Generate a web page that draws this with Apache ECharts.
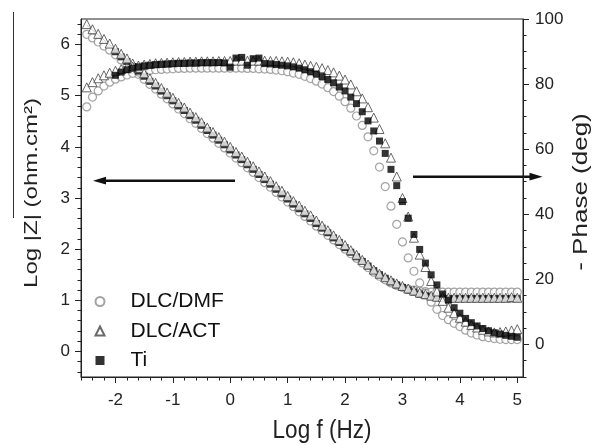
<!DOCTYPE html>
<html>
<head>
<meta charset="utf-8">
<script src="https://cdn.jsdelivr.net/npm/echarts@6/dist/echarts.min.js"></script>
<style>html,body{margin:0;padding:0;background:#fff;}#c{width:599px;height:445px;}</style>
</head>
<body>
<div id="c"></div>
<script>
// ---- data ----
const logF = [-2.5,-2.4,-2.3,-2.2,-2.1,-2.0,-1.9,-1.8,-1.7,-1.6,
  -1.5,-1.4,-1.3,-1.2,-1.1,-1.0,-0.9,-0.8,-0.7,-0.6,
  -0.5,-0.4,-0.3,-0.2,-0.1,0.0,0.1,0.2,0.3,0.4,
  0.5,0.6,0.7,0.8,0.9,1.0,1.1,1.2,1.3,1.4,
  1.5,1.6,1.7,1.8,1.9,2.0,2.1,2.2,2.3,2.4,
  2.5,2.6,2.7,2.8,2.9,3.0,3.1,3.2,3.3,3.4,
  3.5,3.6,3.7,3.8,3.9,4.0,4.1,4.2,4.3,4.4,
  4.5,4.6,4.7,4.8,4.9,5.0];

const zDMF = [6.20,6.13,6.05,5.97,5.89,5.80,5.70,5.61,5.51,5.42,
  5.32,5.22,5.13,5.03,4.94,4.84,4.74,4.65,4.55,4.46,
  4.36,4.26,4.17,4.07,3.98,3.88,3.78,3.69,3.59,3.50,
  3.40,3.30,3.21,3.11,3.02,2.92,2.83,2.73,2.64,2.55,
  2.45,2.36,2.27,2.18,2.09,2.00,1.91,1.82,1.73,1.64,
  1.55,1.47,1.40,1.34,1.29,1.25,1.22,1.20,1.18,1.17,
  1.16,1.16,1.16,1.16,1.16,1.16,1.16,1.16,1.16,1.16,
  1.16,1.16,1.16,1.16,1.16,1.16];

const zACT = [6.40,6.30,6.21,6.11,6.02,5.92,5.82,5.73,5.63,5.54,
  5.44,5.34,5.25,5.15,5.06,4.96,4.86,4.77,4.67,4.58,
  4.48,4.38,4.29,4.19,4.10,4.00,3.90,3.81,3.71,3.62,
  3.52,3.42,3.33,3.23,3.14,3.04,2.94,2.85,2.75,2.66,
  2.56,2.46,2.37,2.27,2.18,2.08,1.98,1.89,1.79,1.70,
  1.60,1.52,1.45,1.39,1.33,1.28,1.23,1.19,1.15,1.12,
  1.09,1.07,1.06,1.05,1.05,1.05,1.05,1.05,1.05,1.05,
  1.05,1.05,1.05,1.05,1.06,1.05];

const zTi = [null,null,null,null,null,5.86,5.76,5.67,5.57,5.48,
  5.38,5.28,5.19,5.09,5.00,4.90,4.80,4.71,4.61,4.52,
  4.42,4.32,4.23,4.13,4.04,3.94,3.84,3.75,3.65,3.56,
  3.46,3.36,3.27,3.17,3.08,2.98,2.88,2.79,2.69,2.60,
  2.50,2.41,2.32,2.22,2.13,2.03,1.94,1.85,1.76,1.67,
  1.58,1.50,1.43,1.36,1.30,1.25,1.20,1.16,1.12,1.09,
  1.07,1.05,1.04,1.03,1.03,1.03,1.03,1.03,1.03,1.03,
  1.03,1.03,1.03,1.03,1.03,1.03];

const phDMF = [73.0,76.0,77.9,79.4,80.6,81.5,82.2,82.8,83.3,83.7,
  84.0,84.2,84.4,84.5,84.6,84.7,84.8,84.8,84.9,84.9,
  84.9,84.9,84.9,84.9,84.9,84.9,84.9,84.9,84.8,84.8,
  84.7,84.6,84.5,84.3,84.1,83.8,83.4,83.0,82.4,81.7,
  80.9,80.0,78.9,77.7,76.3,74.6,72.6,70.2,67.3,63.8,
  59.5,54.5,48.5,42.5,36.9,31.5,26.6,22.5,18.9,15.8,
  13.0,10.8,8.9,7.6,6.5,5.5,4.4,3.5,2.9,2.4,
  2.1,1.8,1.6,1.5,1.5,1.5];

const phACT = [79.0,80.6,81.8,82.7,83.5,84.1,84.6,85.0,85.4,85.7,
  86.0,86.2,86.4,86.5,86.6,86.7,86.8,86.8,86.9,86.9,
  87.0,87.0,87.0,87.1,87.1,87.1,87.2,87.2,87.2,87.2,
  87.2,87.2,87.1,87.1,87.0,86.9,86.7,86.4,86.0,85.6,
  85.3,84.9,84.3,83.6,82.6,81.4,79.9,77.8,75.6,72.9,
  69.7,66.2,61.8,57.4,51.6,45.0,39.3,32.8,27.6,23.8,
  19.5,16.3,13.4,11.3,9.6,8.2,7.0,6.0,5.2,4.5,
  4.0,3.7,3.8,4.0,4.3,4.7];

const phTi = [null,null,null,null,null,82.7,83.7,84.4,84.9,85.3,
  85.6,85.8,86.0,86.1,86.2,86.3,86.4,86.4,86.5,86.5,
  86.6,86.6,86.6,86.6,86.5,85.2,88.0,88.2,85.8,87.8,
  88.0,86.3,86.2,86.0,85.8,85.6,85.3,84.9,84.4,83.8,
  83.1,82.3,81.4,80.4,79.1,77.9,76.0,74.0,71.5,68.7,
  65.6,62.5,58.7,53.8,48.8,43.9,38.8,33.8,29.2,25.0,
  21.4,18.3,15.5,13.6,11.3,9.6,8.0,6.7,5.7,4.9,
  4.2,3.6,3.2,2.8,2.5,2.2];

const fitLogF = [-2.5,-1.5,-0.5,0.5,1.5,2.0,2.4,2.7,3.0,3.3,3.6,4.0,4.5,5.0];
const fitZ = [6.38,5.42,4.46,3.50,2.54,2.06,1.69,1.43,1.25,1.12,1.04,1.00,0.99,0.99];

const xTicks = [-2,-1,0,1,2,3,4,5];
const zTicks = [0,1,2,3,4,5,6];
const phTicks = [0,20,40,60,80,100];

const legendNames = ['DLC/DMF','DLC/ACT','Ti'];

// ---- helpers ----
function pairs(xs, ys){ const out=[]; xs.forEach((x,i)=>{ if(ys[i]!=null) out.push([x,ys[i]]); }); return out; }
function minorTicks(lo, hi, step, majors){
  const out=[]; const n=Math.round((hi-lo)/step);
  for(let k=0;k<=n;k++){ const v=Math.round((lo+k*step)*1000)/1000;
    if(!majors.some(m=>Math.abs(m-v)<1e-9)) out.push(v); }
  return out;
}
const FONT = 'Liberation Sans, Arial, sans-serif';
const AX = '#222';

const xMinor = minorTicks(-2.6, 5.0, 0.2, xTicks);
const zMinor = minorTicks(-0.4, 6.4, 0.2, zTicks);
const phMinor = minorTicks(-10, 95, 5, phTicks);

function majorAxis(base, ticks, margin){
  return Object.assign({
    type:'value', splitLine:{show:false},
    axisLine:{show:true, onZero:false, lineStyle:{color:AX, width:1}},
    axisTick:{show:true, inside:false, length:6, customValues:ticks, lineStyle:{color:AX, width:1}},
    axisLabel:{customValues:ticks, fontSize:17, fontFamily:FONT, color:AX, margin:margin}
  }, base);
}
function minorAxis(base, ticks){
  return Object.assign({
    type:'value', splitLine:{show:false},
    axisLine:{show:false, onZero:false},
    axisTick:{show:true, inside:false, length:3.5, customValues:ticks, lineStyle:{color:AX, width:1}},
    axisLabel:{show:false}
  }, base);
}

const chart = echarts.init(document.getElementById('c'), null, {renderer:'canvas'});
chart.setOption({
  animation:false,
  backgroundColor:'#fff',
  grid:{left:81, right:76, top:19, bottom:68, show:true, borderColor:AX, borderWidth:1, backgroundColor:'transparent'},
  xAxis:[
    majorAxis({min:-2.6, max:5.1, position:'bottom'}, xTicks, 15),
    minorAxis({min:-2.6, max:5.1, position:'bottom'}, xMinor)
  ],
  yAxis:[
    majorAxis({min:-0.5, max:6.5, position:'left'}, zTicks, 11),
    minorAxis({min:-0.5, max:6.5, position:'left'}, zMinor),
    majorAxis({min:-10, max:100, position:'right'}, phTicks, 12),
    minorAxis({min:-10, max:100, position:'right'}, phMinor)
  ],
  legend:{
    data:legendNames, orient:'vertical', left:89.5, top:286,
    itemWidth:9, itemHeight:9, itemGap:8.5,
    textStyle:{fontSize:21, lineHeight:21, fontFamily:FONT, color:'#111', padding:[0,0,0,21]},
    selectedMode:false
  },
  series:[
    {name:legendNames[0], type:'scatter', xAxisIndex:0, yAxisIndex:0, data:pairs(logF,zDMF),
      symbol:'circle', symbolSize:8, itemStyle:{color:'#fff', borderColor:'#8c8c8c', borderWidth:1.2}},
    {name:legendNames[0], type:'scatter', xAxisIndex:0, yAxisIndex:2, data:pairs(logF,phDMF),
      symbol:'circle', symbolSize:8, itemStyle:{color:'#fff', borderColor:'#8c8c8c', borderWidth:1.2}},
    {name:legendNames[2], type:'scatter', xAxisIndex:0, yAxisIndex:0, data:pairs(logF,zTi),
      symbol:'rect', symbolSize:7, itemStyle:{color:'#000'}},
    {name:legendNames[1], type:'scatter', xAxisIndex:0, yAxisIndex:0, data:pairs(logF,zACT),
      symbol:'triangle', symbolSize:9, itemStyle:{color:'#fff', borderColor:'#444', borderWidth:1}},
    {name:legendNames[1], type:'scatter', xAxisIndex:0, yAxisIndex:2, data:pairs(logF,phACT),
      symbol:'triangle', symbolSize:9, itemStyle:{color:'#fff', borderColor:'#444', borderWidth:1}},
    {name:legendNames[2], type:'scatter', xAxisIndex:0, yAxisIndex:2, data:pairs(logF,phTi),
      symbol:'rect', symbolSize:7, itemStyle:{color:'#000'}},
    {name:'fit', type:'line', xAxisIndex:0, yAxisIndex:0, data:pairs(fitLogF,fitZ), smooth:0.4,
      symbol:'none', lineStyle:{color:'#000', width:1}, z:1}
  ],
  graphic:[
    {type:'text', x:32, y:193, rotation:Math.PI/2, scaleY:0.74,
      style:{text:'Log |Z| (ohm.cm²)', font:'24px '+FONT, fill:'#222', textAlign:'center', textVerticalAlign:'middle'}},
    {type:'text', x:581, y:192, rotation:Math.PI/2, scaleY:0.8,
      style:{text:'- Phase (deg)', font:'26px '+FONT, fill:'#222', textAlign:'center', textVerticalAlign:'middle'}},
    {type:'text', x:322, y:431, scaleX:0.9,
      style:{text:'Log f (Hz)', font:'25px '+FONT, fill:'#222', textAlign:'center', textVerticalAlign:'middle'}},
    {type:'line', shape:{x1:13.5, y1:12, x2:13.5, y2:218}, style:{stroke:'#333', lineWidth:1}},
    {type:'line', shape:{x1:235, y1:180.7, x2:104, y2:180.7}, style:{stroke:'#111', lineWidth:2.5}},
    {type:'polygon', shape:{points:[[93,180.7],[106,176.8],[106,184.6]]}, style:{fill:'#111'}},
    {type:'line', shape:{x1:413, y1:176.7, x2:531, y2:176.7}, style:{stroke:'#111', lineWidth:2.5}},
    {type:'polygon', shape:{points:[[542.5,176.7],[529.5,172.8],[529.5,180.6]]}, style:{fill:'#111'}}
  ]
});
</script>
</body>
</html>
